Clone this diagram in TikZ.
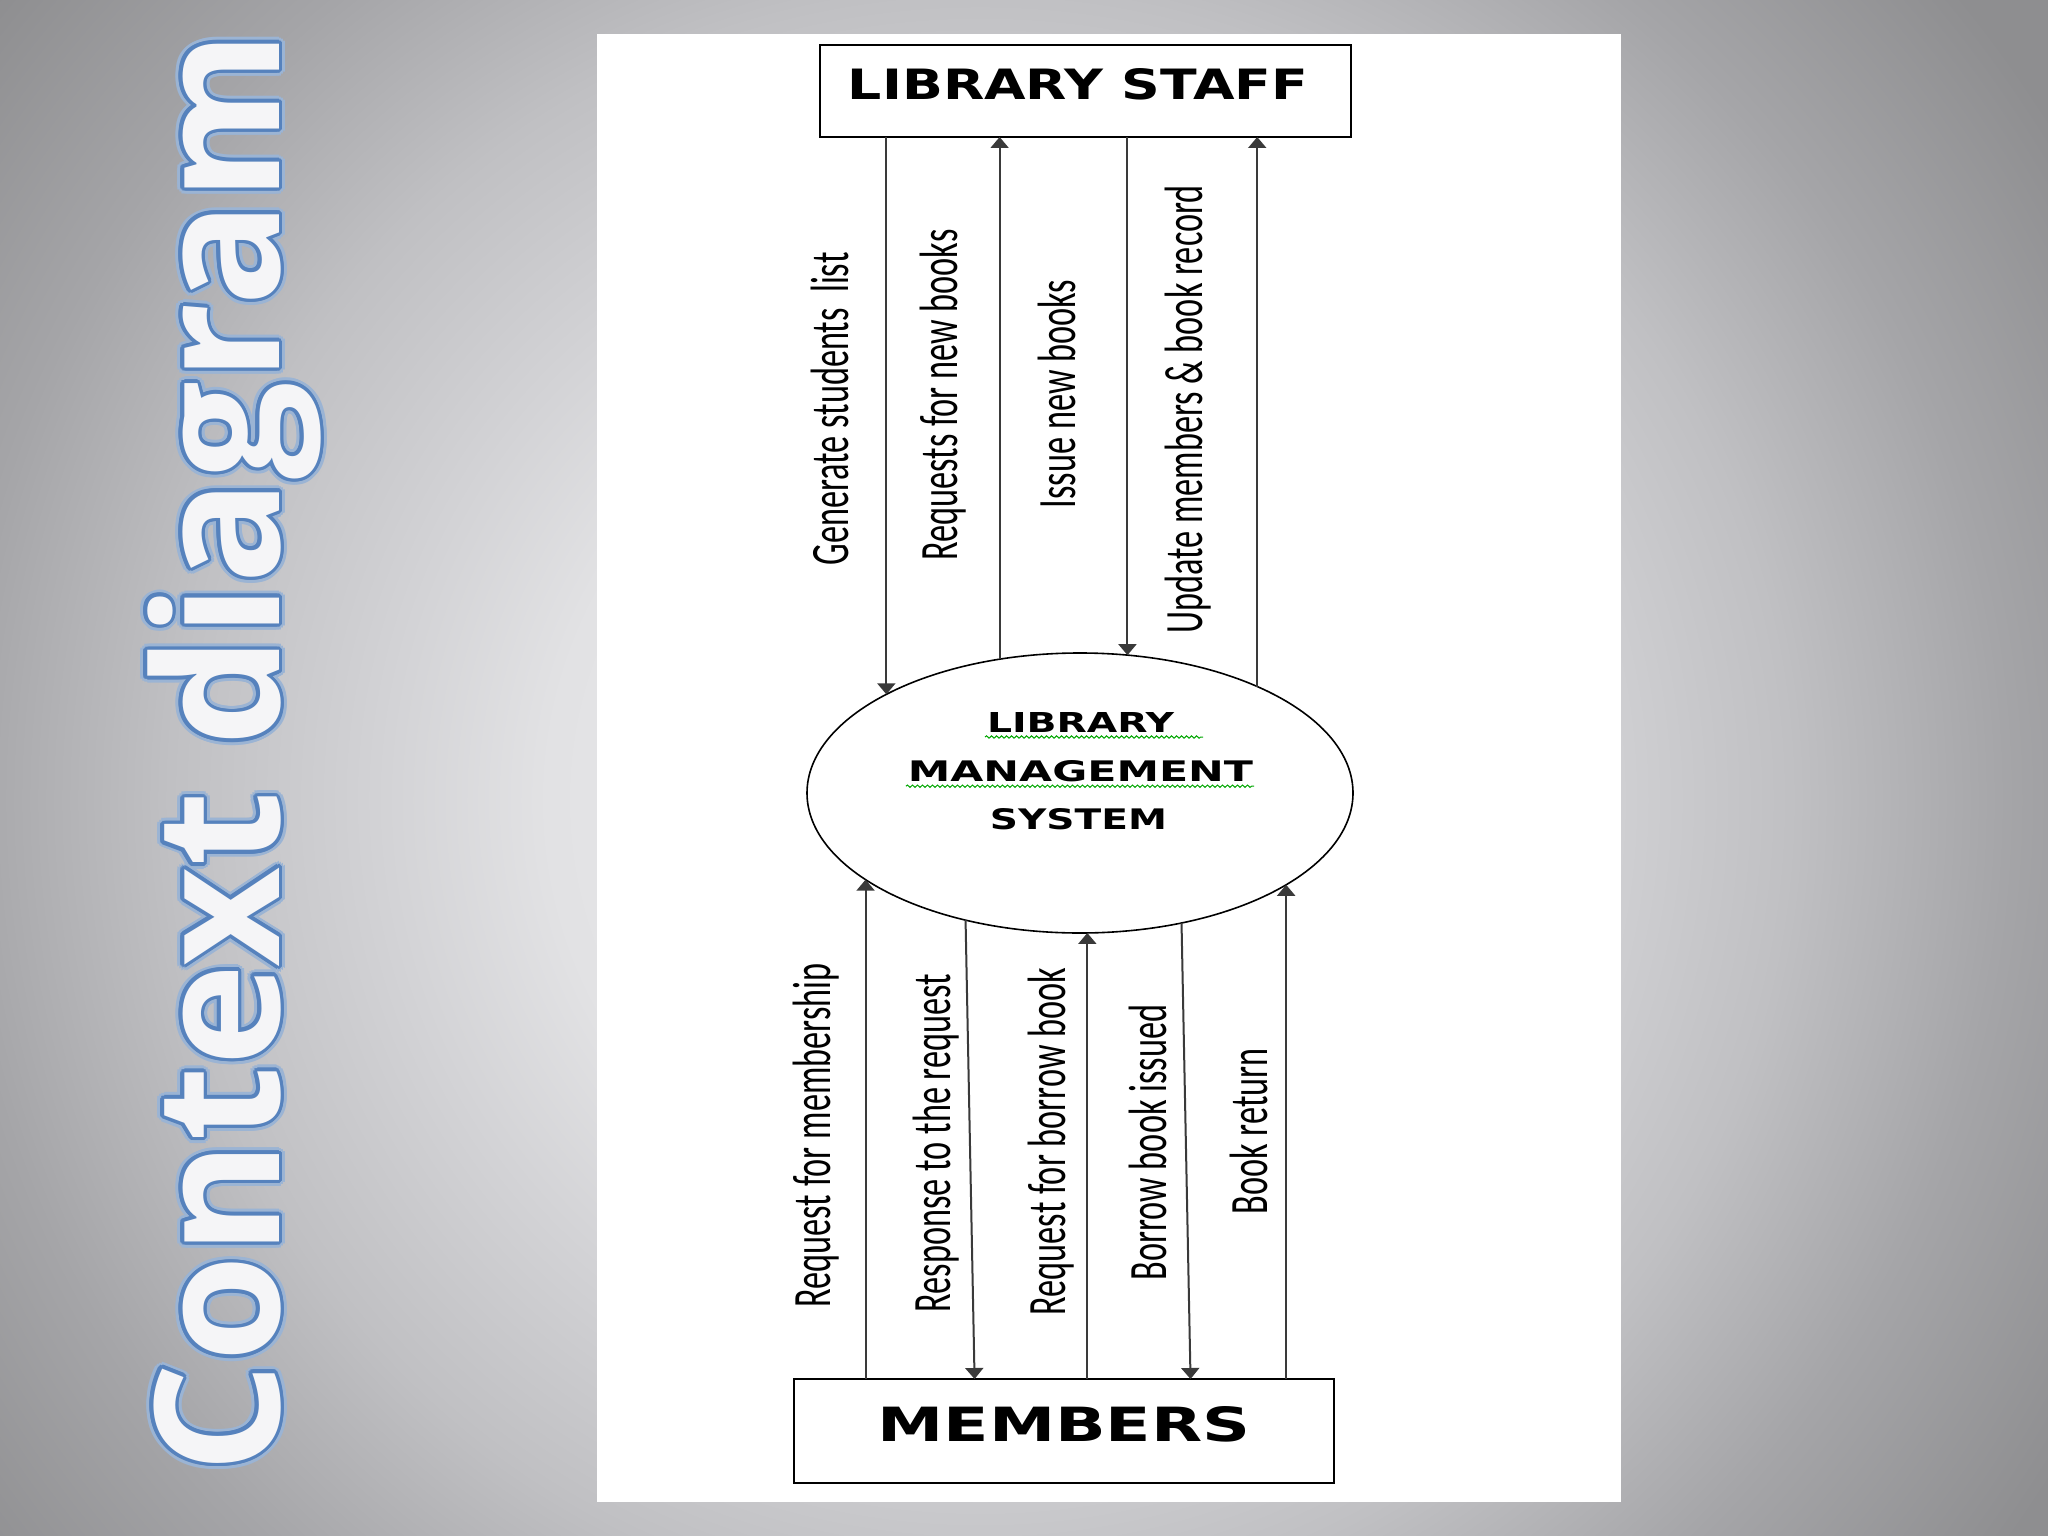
\documentclass[tikz,border=0pt]{standalone}
\usepackage{fontspec}
\usepackage{graphicx}
\usetikzlibrary{shapes.geometric,arrows.meta,calc,decorations.pathmorphing}
\newfontfamily\labfont{Carlito}
\newfontfamily\boxfont{DejaVu Sans}
\newfontfamily\titlefont{Open Sans}
\definecolor{bgA}{HTML}{ECECEE}
\definecolor{bgB}{HTML}{E2E2E4}
\definecolor{bgC}{HTML}{D3D3D6}
\definecolor{bgD}{HTML}{C0C0C3}
\definecolor{bgE}{HTML}{A5A5A8}
\definecolor{bgF}{HTML}{8E8E90}
\definecolor{glowout}{HTML}{9BB4D4}
\definecolor{glowin}{HTML}{5682BD}
\definecolor{titlefill}{HTML}{F5F5F7}
\definecolor{linegray}{HTML}{3A3A3A}
\pgfdeclareradialshading{bgshade}{\pgfpoint{0bp}{0bp}}{color(0bp)=(bgA); color(8bp)=(bgB); color(11bp)=(bgC); color(15bp)=(bgD); color(19bp)=(bgE); color(23.5bp)=(bgF); color(50bp)=(bgF)}
\newcommand{\mytitletext}{\resizebox{1442pt}{!}{\titlefont\bfseries\fontsize{176}{180}\selectfont Context diagram}}
\tikzset{
  lab/.style={rotate=90, anchor=base, inner sep=0pt, outer sep=0pt, font=\labfont\fontsize{54}{60}\selectfont},
  flow/.style={draw=linegray, line width=2pt, -{Triangle[width=18pt,length=11pt]}},
  entity/.style={draw=black, line width=2.2pt, fill=white, inner sep=0pt, outer sep=0pt},
  proc/.style={ellipse, draw=black, line width=1.6pt, fill=white, minimum width=546pt, minimum height=280pt, inner sep=0pt, outer sep=0pt},
  proctext/.style={inner sep=0pt, outer sep=0pt},
  wavy/.style={draw=green!65!black, line width=1pt, decorate, decoration={snake, amplitude=1.2pt, segment length=5pt}},
  titlestyle/.style={rotate=90, anchor=base, inner sep=0pt, outer sep=0pt}
}
\begin{document}
\begin{tikzpicture}[x=1pt,y=-1pt]
\useasboundingbox (0,0) rectangle (2048,1536);
% background
\begin{scope}
\clip (0,0) rectangle (2048,1536);
\shade[shading=bgshade] (980,800) circle (1350);
\end{scope}
% white panel
\fill[white] (597,34) rectangle (1621,1502);
% title with glow
\foreach \a [count=\i] in {0,22.5,...,337.5} {
  \node[titlestyle, text=glowout] (go\i) at ($(279,752)+(\a:6.5)$) {\mytitletext};
}
\foreach \a [count=\i] in {0,22.5,...,337.5} {
  \node[titlestyle, text=glowin] (gi\i) at ($(279,752)+(\a:3.5)$) {\mytitletext};
}
\node[titlestyle, text=titlefill] (title) at (279,752) {\mytitletext};
% entities
\node[entity, minimum width=531pt, minimum height=92pt] (staff) at (1085.5,91)
  {\raisebox{6.5pt}[31pt][0pt]{\resizebox{460pt}{31pt}{\boxfont\bfseries LIBRARY STAFF}}\hspace*{15pt}};
\node[entity, minimum width=540pt, minimum height=104pt] (members) at (1064,1431)
  {\raisebox{7.5pt}[35pt][0pt]{\resizebox{373pt}{35pt}{\boxfont\bfseries MEMBERS}}};
% process
\node[proc] (proc) at (1080,793) {};
\node[proctext] (t1) at (1080.5,722) {\resizebox{187pt}{20pt}{\boxfont\bfseries LIBRARY}};
\node[proctext] (t2) at (1080.5,771.5) {\resizebox{345pt}{21pt}{\boxfont\bfseries MANAGEMENT}};
\node[proctext] (t3) at (1078.5,819.5) {\resizebox{177pt}{21pt}{\boxfont\bfseries SYSTEM}};
\draw[wavy] ($(t1.south west)+(-2,5)$) -- ($(t1.south east)+(29,5)$);
\draw[wavy] ($(t2.south west)+(-2,4)$) -- ($(t2.south east)+(1,4)$);
% top flows
\draw[flow] (staff.south -| proc.153.55) -- (proc.153.55);
\draw[flow] (proc.121.56) -- (staff.south -| proc.121.56);
\draw[flow] (staff.south -| proc.71.56) -- (proc.71.56);
\draw[flow] (proc.31.56) -- (staff.south -| proc.31.56);
% bottom flows
\draw[flow] (members.north -| proc.202.36) -- (proc.202.36);
\draw[flow] (proc.228.75) -- ($(members.north -| proc.228.75)+(9,0)$);
\draw[flow] (members.north -| proc.273.7) -- (proc.273.7);
\draw[flow] (proc.308.14) -- ($(members.north -| proc.308.14)+(9,0)$);
\draw[flow] (members.north -| proc.336.7) -- (proc.336.7);
% labels
\node[lab] (l1) at (848,409) {\scalebox{0.635}[1]{Generate students~~list}};
\node[lab] (l2) at (957,395) {\scalebox{0.635}[1]{Requests for new books}};
\node[lab] (l3) at (1075,394) {\scalebox{0.635}[1]{Issue new books}};
\node[lab] (l4) at (1202,409.5) {\scalebox{0.635}[1]{Update members \& book record}};
\node[lab] (l5) at (830,1135.5) {\scalebox{0.635}[1]{Request for membership}};
\node[lab] (l6) at (950,1143) {\scalebox{0.635}[1]{Response to the request}};
\node[lab] (l7) at (1065,1141.5) {\scalebox{0.635}[1]{Request for borrow book}};
\node[lab] (l8) at (1166,1142.5) {\scalebox{0.635}[1]{Borrow book issued}};
\node[lab] (l9) at (1267,1131.5) {\scalebox{0.635}[1]{Book return}};
\end{tikzpicture}
\end{document}
